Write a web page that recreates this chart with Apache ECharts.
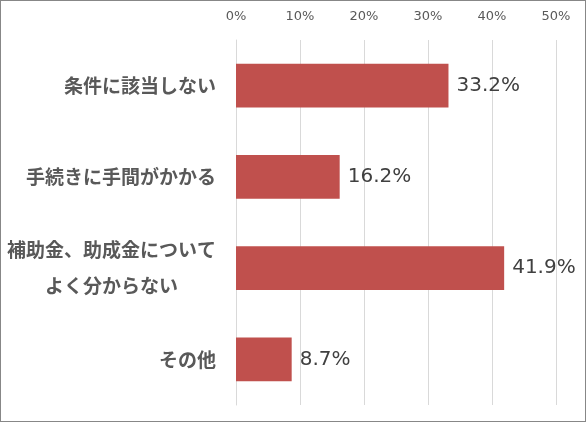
<!DOCTYPE html>
<html>
<head>
<meta charset="utf-8">
<script src="https://cdn.jsdelivr.net/npm/echarts@6/dist/echarts.min.js"></script>
<style>
  html, body { margin: 0; padding: 0; background: #fff; }
  #chart {
    width: 584px;
    height: 420px;
    border: 1px solid #878787;
  }
</style>
</head>
<body>
<div id="chart"></div>
<script>
  // 回答項目（上から順に）
  const categories = [
    '条件に該当しない',
    '手続きに手間がかかる',
    '補助金、助成金について\nよく分からない',
    'その他',
  ];
  const values = [33.2, 16.2, 41.9, 8.7];
  const tickMax = 50;
  const tickStep = 10;

  const chart = echarts.init(document.getElementById('chart'));
  const option = {
    animation: false,
    grid: {
      left: 235,
      right: 29,
      top: 39,
      bottom: 16,
    },
    xAxis: {
      type: 'value',
      position: 'top',
      min: 0,
      max: tickMax,
      interval: tickStep,
      axisLine: { show: false },
      axisTick: { show: false },
      axisLabel: {
        formatter: '{value}%',
        color: '#595959',
        fontSize: 13,
        fontFamily: 'DejaVu Sans, sans-serif',
        margin: 17,
      },
      splitLine: {
        lineStyle: { color: '#d9d9d9', width: 1 },
      },
    },
    yAxis: {
      type: 'category',
      inverse: true,
      data: categories,
      axisLine: {
        lineStyle: { color: '#d9d9d9' },
      },
      axisTick: {
        length: 7,
        lineStyle: { color: '#d9d9d9' },
      },
      axisLabel: {
        color: '#595959',
        fontSize: 19,
        fontWeight: 'bold',
        fontFamily: 'Noto Sans CJK JP, sans-serif',
        lineHeight: 36,
        align: 'right',
        margin: 20,
        // 複数行のラベルは行ごとに中央揃え
        formatter: (v) => v.includes('\n')
          ? v.split('\n').map((s) => '{m|' + s + '}').join('\n')
          : v,
        rich: {
          m: {
            color: '#595959',
            fontSize: 19,
            fontWeight: 'bold',
            fontFamily: 'Noto Sans CJK JP, sans-serif',
            lineHeight: 36,
            width: 209,
            align: 'center',
          },
        },
      },
    },
    series: [{
      type: 'bar',
      data: values,
      barWidth: '48%',
      itemStyle: { color: '#c0504d' },
      label: {
        show: true,
        position: 'right',
        distance: 8,
        formatter: (p) => p.value.toFixed(1) + '%',
        color: '#404040',
        fontSize: 20,
        fontFamily: 'DejaVu Sans, sans-serif',
      },
    }],
  };
  chart.setOption(option);
</script>
</body>
</html>
